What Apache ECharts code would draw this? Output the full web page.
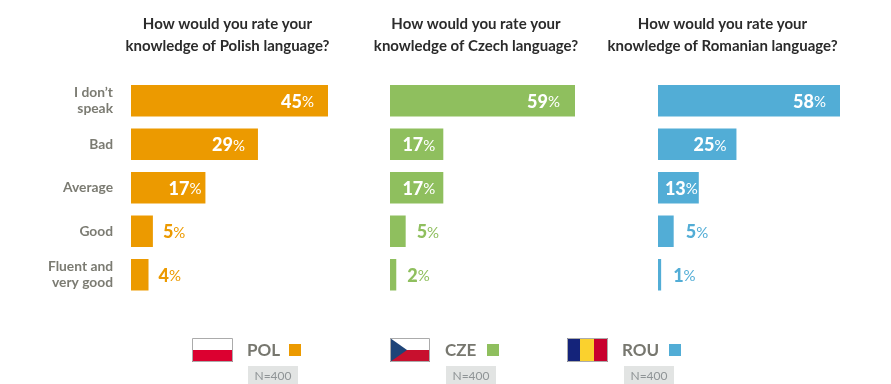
<!DOCTYPE html>
<html><head><meta charset="utf-8">
<style>html,body{margin:0;padding:0;background:#fff}#c{width:891px;height:384px}</style>
<script src="https://cdn.jsdelivr.net/npm/echarts@6/dist/echarts.min.js"></script>
</head><body><div id="c"></div>
<script>
const categories = ["I don’t\nspeak", "Bad", "Average", "Good", "Fluent and\nvery good"];
const polValues = [45, 29, 17, 5, 4];
const czeValues = [59, 17, 17, 5, 2];
const rouValues = [58, 25, 13, 5, 1];
const seriesNames = ["POL", "CZE", "ROU"];
const titles = [
  "How would you rate your\nknowledge of Polish language?",
  "How would you rate your\nknowledge of Czech language?",
  "How would you rate your\nknowledge of Romanian language?"
];
const sampleLabel = "N=400";

const font = "Lato";
const colors = ["#EC9A00", "#8FBF5E", "#52ADD6"];
const panels = [
  {left: 131, width: 197, max: 45, cx: 222.5, values: polValues, inset: {45: 14, 29: 13, 17: 4}, out: 10},
  {left: 390, width: 185, max: 59, cx: 471, values: czeValues, inset: {59: 15, 17: 8}, out: 11},
  {left: 658, width: 182, max: 58, cx: 717.5, values: rouValues, inset: {58: 14, 25: 10, 13: 1}, out: 12}
];

function rich(color) {
  return {
    n: {fontFamily: font, fontWeight: 900, fontSize: 18, color},
    p: {fontFamily: font, fontWeight: 400, fontSize: 15, color, padding: [1, 0, 0, 0]}
  };
}
const fmt = p => `{n|${p.value}}{p|%}`;

const grid = [], xAxis = [], yAxis = [], series = [], title = [];
panels.forEach((pn, i) => {
  grid.push({left: pn.left, width: pn.width, top: 79, height: 217.5});
  xAxis.push({gridIndex: i, type: "value", min: 0, max: pn.max, show: false});
  yAxis.push({
    gridIndex: i, type: "category", inverse: true, data: categories,
    axisLine: {show: false}, axisTick: {show: false},
    axisLabel: i === 0 ? {
      show: true, margin: 18, align: "right", fontFamily: font, fontWeight: 700,
      fontSize: 13.8, lineHeight: 16, color: "#7B7B72"
    } : {show: false}
  });
  series.push({
    type: "bar", name: seriesNames[i], xAxisIndex: i, yAxisIndex: i,
    barWidth: 31.5, animation: false, itemStyle: {color: colors[i]},
    data: pn.values.map(v => {
      const inside = pn.inset[v] !== undefined;
      return {
        value: v,
        label: inside
          ? {show: true, position: "insideRight", distance: pn.inset[v], offset: [0, 1], formatter: fmt, rich: rich("#fff")}
          : {show: true, position: "right", distance: pn.out, offset: [0, 1], formatter: fmt, rich: rich(colors[i])}
      };
    })
  });
  title.push({
    text: titles[i], left: pn.cx, top: 8, textAlign: "center",
    textStyle: {fontFamily: font, fontWeight: 700, fontSize: 15, lineHeight: 22, color: "#2B2B2B"}
  });
});

const G = [];
const rect = (x, y, w, h, fill, z) => G.push({type: "rect", shape: {x, y, width: w, height: h}, style: {fill}, z: z || 1, silent: true});
function frame(x, y, w, h) {
  G.push({type: "rect", shape: {x: x + .5, y: y + .5, width: w - 1, height: h - 1}, style: {fill: "none", stroke: "#ABABAB", lineWidth: 1}, z: 5, silent: true});
}
function legend(i, tx, sqx, nx) {
  G.push({type: "text", x: tx, y: 351, style: {text: seriesNames[i], font: `700 17px ${font}`, fill: "#77776F", verticalAlign: "middle"}, silent: true});
  rect(sqx, 344, 12, 12, colors[i]);
  rect(nx, 366, 50, 18, "#E2E4E3");
  G.push({type: "text", x: nx + 25, y: 376.5, style: {text: sampleLabel, font: `400 12px ${font}`, fill: "#8F9496", align: "center", verticalAlign: "middle"}, z: 2, silent: true});
}
// Poland flag
rect(192, 338, 41, 12, "#FFFFFF");
rect(192, 350, 41, 12, "#DC0030");
frame(192, 338, 41, 24);
// Czech flag
rect(390, 338, 40, 12, "#FFFFFF");
rect(390, 350, 40, 12, "#C8102E");
G.push({type: "polygon", shape: {points: [[390, 338], [407, 350], [390, 362]]}, style: {fill: "#1F4478"}, z: 2, silent: true});
frame(390, 338, 40, 24);
// Romania flag
rect(567, 338, 13, 24, "#14237A");
rect(580, 338, 14, 24, "#FAD12E");
rect(594, 338, 14, 24, "#C8002E");
frame(567, 338, 41, 24);

legend(0, 247, 289, 248);
legend(1, 445, 487, 446);
legend(2, 622, 669, 624);

const chart = echarts.init(document.getElementById("c"), null, {renderer: "canvas"});
chart.setOption({animation: false, backgroundColor: "#fff", title, grid, xAxis, yAxis, series, graphic: {elements: G}});
</script></body></html>
